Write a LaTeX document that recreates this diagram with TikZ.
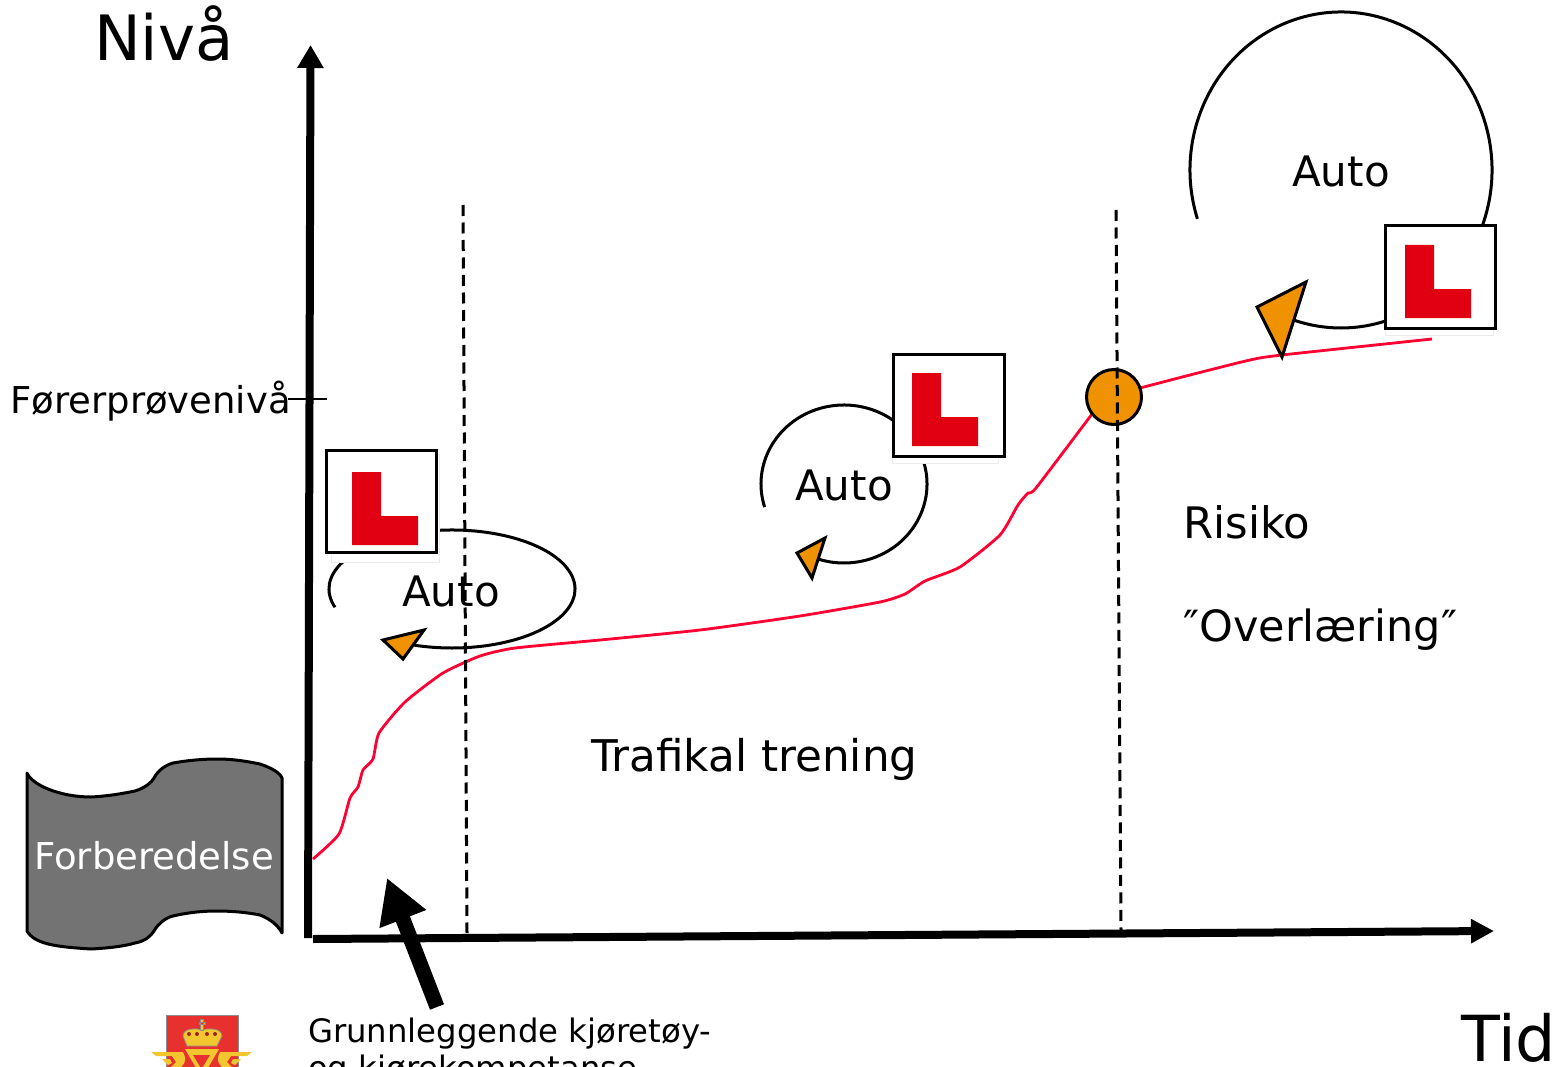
\documentclass[tikz,border=0pt]{standalone}
\usepackage{fontspec}
\setmainfont{DejaVu Sans}
\usetikzlibrary{arrows.meta}
\definecolor{orangefill}{HTML}{F09200}
\definecolor{redline}{HTML}{FF0033}
\definecolor{lred}{HTML}{E00012}
\definecolor{flaggray}{HTML}{737373}
\definecolor{logored}{HTML}{E8302F}
\definecolor{logogold}{HTML}{F2C62E}
\tikzset{
  label/.style={anchor=base west,inner sep=0pt,text=black},
  axisline/.style={line width=8pt,draw=black},
  guide/.style={draw=black,line width=3pt,dash pattern=on 11pt off 6.5pt},
  loopline/.style={draw=black,line width=3pt},
  pointer/.style={draw=black,fill=orangefill,line width=3pt,line join=miter},
  curve/.style={draw=redline,line width=2.8pt,line join=round},
  signbox/.style={draw=black,fill=white,line width=3pt},
  signghost/.style={draw=black!8,fill=white,line width=1pt},
  signl/.style={fill=lred},
}
% box x, box y, box w, box h, L dx, L dy
\newcommand{\lsign}[6]{%
  \draw[signbox] (#1,#2) rectangle (#1+#3,#2+#4);
  \fill[signl] (#1+#5,#2+#6) -- (#1+#5+29,#2+#6) -- (#1+#5+29,#2+#6+44) -- (#1+#5+66,#2+#6+44) -- (#1+#5+66,#2+#6+73) -- (#1+#5,#2+#6+73) -- cycle;
}
\begin{document}
\begin{tikzpicture}[x=1pt,y=-1pt]
\useasboundingbox (0,0) rectangle (1557,1067);
\clip (0,0) rectangle (1557,1067);

% forberedelse flag
\draw[fill=flaggray,draw=black,line width=3pt,line join=round]
  (27,773) .. controls (32,785) and (60,797) .. (91,797)
  .. controls (110,796) and (125,793) .. (135,791)
  .. controls (145,788) and (152,782) .. (154,778)
  .. controls (158,770) and (166,765) .. (173,763)
  .. controls (190,760) and (205,759) .. (217,759)
  .. controls (235,759) and (250,762) .. (260,764)
  .. controls (272,768) and (280,773) .. (282,778)
  -- (282,933)
  .. controls (278,925) and (270,919) .. (260,915)
  .. controls (250,913) and (235,911) .. (217,911)
  .. controls (205,911) and (190,912) .. (173,916)
  .. controls (165,918) and (158,924) .. (154,931)
  .. controls (150,937) and (145,941) .. (135,943)
  .. controls (125,946) and (110,948) .. (91,949)
  .. controls (60,947) and (35,945) .. (27,931)
  -- cycle;
\node[label,text=white,font=\fontsize{37}{40}\selectfont] (forb) at (34,869) {Forberedelse};

% axes
\coordinate (o1) at (308,938); \coordinate (ytop) at (310.5,45);
\coordinate (o2) at (313,939); \coordinate (xend) at (1494,931);
\draw[axisline,-{Triangle[length=23pt,width=25pt]}] (o1) -- (ytop);
\draw[axisline,-{Triangle[length=23pt,width=23pt]}] (o2) -- (xend);
\coordinate (t1) at (288,399); \coordinate (t2) at (327,399);
\draw[black,line width=2pt] (t1) -- (t2);

% curve
\draw[curve] plot[smooth,tension=0.35] coordinates {(313,859) (339,834) (350,798) (358,787) (363,770) (373,759) (379,733) (405,702) (443,673) (480,656) (515,648) (600,640) (700,630) (800,616) (880,602) (905,594) (925,581) (960,567) (1000,535) (1018,505) (1028,493) (1036,488) (1092,414)};
\draw[curve] plot[smooth,tension=0.4] coordinates {(1140,388) (1190,375) (1250,360) (1282,355) (1432,339)};
\node[circle,draw=black,fill=orangefill,line width=3pt,minimum size=55pt,inner sep=0pt] (milestone) at (1114,397) {};

% loops
\draw[loopline] (452,589) ++(162:123 and 59) arc[start angle=162,end angle=468,x radius=123,y radius=59];
\draw[loopline] (844,484) ++(163:83 and 79) arc[start angle=163,end angle=468,x radius=83,y radius=79];
\draw[loopline] (1341,170) ++(162:151 and 158) arc[start angle=162,end angle=468,x radius=151,y radius=158];

% guides
\coordinate (g1a) at (463,205); \coordinate (g1b) at (467,933);
\coordinate (g2a) at (1116,210); \coordinate (g2b) at (1121,931);
\draw[guide] (g1a) -- (g1b);
\draw[guide] (g2a) -- (g2b);

% pointers
\draw[pointer] (383,640) -- (424,630) -- (403,659) -- cycle;
\draw[pointer] (797,553) -- (825,538) -- (812,578) -- cycle;
\draw[pointer] (1257,307) -- (1306,282) -- (1282,357) -- cycle;

% signs
\draw[signghost] (331,454) rectangle (439,562);
\lsign{326}{450}{110}{102}{26}{22}
\draw[signghost] (892,360) rectangle (998,463);
\lsign{893}{354}{111}{102}{19}{19}
\draw[signghost] (1385,230) rectangle (1493,335);
\lsign{1385}{226}{110}{102}{20}{19}

% big arrow
\coordinate (ba) at (437,1007); \coordinate (bb) at (387,878);
\draw[black,line width=15pt,-{Triangle[length=44pt,width=47pt]}] (ba) -- (bb);

% labels
\node[label,font=\fontsize{62.5}{66}\selectfont] (niva) at (94,60.5) {Nivå};
\node[label,font=\fontsize{37}{40}\selectfont] (forer) at (10,413) {Førerprøvenivå};
\node[label,font=\fontsize{42}{46}\selectfont] (a1) at (402,606) {Auto};
\node[label,font=\fontsize{42}{46}\selectfont] (a2) at (795,500) {Auto};
\node[label,font=\fontsize{42}{46}\selectfont] (a3) at (1292,187) {Auto};
\node[label,font=\fontsize{43.4}{46}\selectfont] (risk) at (1183,538) {Risiko};
\node[label,font=\fontsize{43}{46}\selectfont] (over) at (1183,641) {″Overlæring″};
\node[label,font=\fontsize{43.7}{46}\selectfont] (traf) at (591,771) {Trafikal trening};
\node[label,font=\fontsize{63.5}{66}\selectfont] (tid) at (1461,1061) {Tid};
\node[label,font=\fontsize{32.3}{36}\selectfont] (g1) at (308,1042) {Grunnleggende kjøretøy-};
\node[label,font=\fontsize{32.3}{36}\selectfont] (g2) at (308,1079) {og kjørekompetanse};

% logo
\fill[logored,draw=black!45,line width=0.8pt] (166,1015) rectangle (238,1075);
\fill[logogold,draw=black!45,line width=0.7pt] (187,1046) -- (183,1036) .. controls (183,1028) and (196,1028) .. (202,1030) .. controls (208,1028) and (222,1028) .. (222,1036) -- (217,1046) -- cycle;
\fill[logored!70!black] (189,1034) circle (2) (197,1034) circle (2) (207,1034) circle (2) (215,1034) circle (2);
\fill[logogold,draw=black!45,line width=0.5pt] (200.5,1030) rectangle (203.5,1019) (199,1022) rectangle (205,1024.5);
\fill[logogold] (185,1049) -- (219,1049) -- (202,1078) -- cycle;
\fill[logored] (193,1055) -- (210,1055) -- (201.5,1069) -- cycle;
\fill[logogold] (151,1052) -- (183,1052) .. controls (186,1058) and (186,1062) .. (182,1066) -- (176,1075) -- (171,1067) -- (176,1062) -- (172,1056) -- (156,1056) -- cycle;
\fill[logogold] (162,1059) -- (170,1059) -- (172,1063) -- (168,1065) -- cycle;
\fill[logogold] (252,1052) -- (220,1052) .. controls (217,1058) and (217,1062) .. (221,1066) -- (227,1075) -- (232,1067) -- (227,1062) -- (231,1056) -- (247,1056) -- cycle;
\fill[logogold] (241,1059) -- (233,1059) -- (231,1063) -- (235,1065) -- cycle;
\end{tikzpicture}
\end{document}
